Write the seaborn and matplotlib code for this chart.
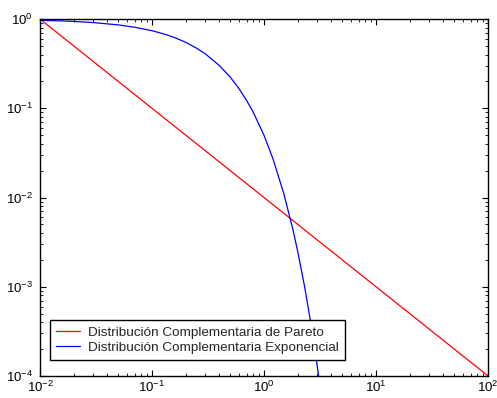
import numpy as np
import pandas as pd
import matplotlib
matplotlib.use('Agg')
import matplotlib.pyplot as plt
import seaborn as sns

# Pareto complementary distribution (straight line in log-log)
pareto_x = [0.01, 100.0]
pareto_y = [1.0, 0.0001]

# Exponential complementary distribution
expo_x = [0.01, 0.015, 0.02, 0.03, 0.05, 0.07, 0.1, 0.13, 0.16, 0.2, 0.25, 0.3, 0.4,
          0.5, 0.6, 0.7, 0.8, 1.0, 1.2, 1.5, 1.8, 2.0, 2.3, 2.6, 2.9, 3.07]
expo_y = [0.970, 0.956, 0.942, 0.914, 0.861, 0.811, 0.741, 0.677, 0.619, 0.549, 0.472,
          0.407, 0.301, 0.223, 0.165, 0.122, 0.0907, 0.0498, 0.0273, 0.0111, 0.00452,
          0.00248, 0.00101, 0.00041, 0.000167, 0.0001]

label_pareto = 'Distribución Complementaria de Pareto'
label_expo = 'Distribución Complementaria Exponencial'

df = pd.concat([
    pd.DataFrame({'x': pareto_x, 'y': pareto_y, 'serie': label_pareto}),
    pd.DataFrame({'x': expo_x, 'y': expo_y, 'serie': label_expo}),
])

sns.set_style('ticks')
plt.rcParams['font.family'] = ['Liberation Sans', 'DejaVu Sans']
plt.rcParams['mathtext.fontset'] = 'custom'
plt.rcParams['mathtext.rm'] = 'Liberation Sans'
plt.rcParams['mathtext.it'] = 'Liberation Sans'
plt.rcParams['mathtext.default'] = 'regular'

fig = plt.figure(figsize=(4.97, 3.98), dpi=100)
ax = fig.add_axes([0.0805, 0.0553, 0.9015, 0.8967])
sns.lineplot(data=df, x='x', y='y', hue='serie', palette=['#ff0000', '#0000ff'],
             sort=False, linewidth=0.9, ax=ax)
ax.set_xscale('log')
ax.set_yscale('log')
ax.set_xlim(1e-2, 1e2)
ax.set_ylim(1e-4, 1e0)
ax.set_xlabel('')
ax.set_ylabel('')
for s in ax.spines.values():
    s.set_visible(True)
    s.set_linewidth(1.0)
    s.set_color('black')
ax.tick_params(which='both', direction='in', top=True, right=True, labelsize=9.5,
               colors='black')
ax.tick_params(axis='x', which='major', pad=2.5)
ax.tick_params(axis='y', which='major', pad=5)
ax.tick_params(which='major', length=4)
ax.tick_params(which='minor', length=2)
ax.xaxis.set_major_locator(matplotlib.ticker.LogLocator(base=10, numticks=10))
ax.yaxis.set_major_locator(matplotlib.ticker.LogLocator(base=10, numticks=10))

leg = ax.legend(loc='lower left', bbox_to_anchor=(0.022, 0.045), borderaxespad=0,
                fancybox=False, edgecolor='black', framealpha=1, fontsize=9.7,
                handlelength=1.8, handletextpad=0.6, borderpad=0.45, labelspacing=0.2)
leg.get_frame().set_linewidth(1.0)

fig.savefig('out.png', dpi=100)
